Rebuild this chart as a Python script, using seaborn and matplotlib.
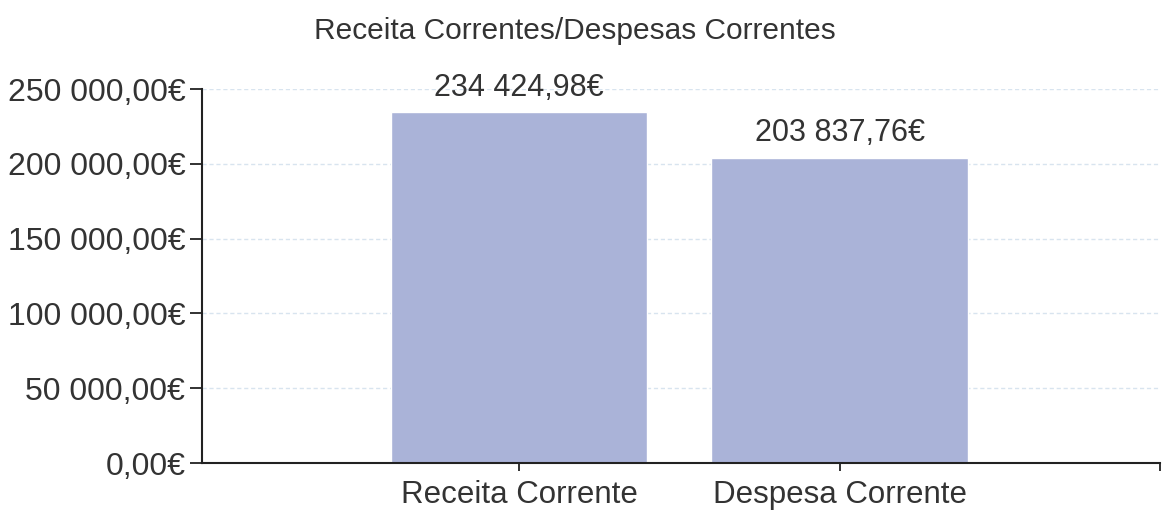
import matplotlib
matplotlib.use("Agg")
import matplotlib.pyplot as plt
import seaborn as sns
import pandas as pd
from matplotlib.ticker import FuncFormatter

categories = ["Receita Corrente", "Despesa Corrente"]
values = [234424.98, 203837.76]
y_ticks = [0, 50000, 100000, 150000, 200000, 250000]
title = "Receita Correntes/Despesas Correntes"


def euro(v, pos=None):
    s = f"{v:,.2f}"
    s = s.replace(",", " ").replace(".", ",")
    return s + "€"


sns.set_style("white")
plt.rcParams["font.family"] = ["Liberation Sans", "DejaVu Sans"]

df = pd.DataFrame({"cat": categories, "val": values})

fig = plt.figure(figsize=(11.63, 5.11), dpi=100)
ax = fig.add_axes([0.1737, 0.0939, 0.8237, 0.7319])

sns.barplot(data=df, x="cat", y="val", color="#aab3d8", width=0.8,
            saturation=1, ax=ax, zorder=2)

ax.set_xlim(-0.99, 2.0)
ax.set_ylim(0, 250000)
ax.set_yticks(y_ticks)
ax.yaxis.set_major_formatter(FuncFormatter(euro))
ax.set_xticks([0, 1, 2])
ax.set_xticklabels(categories + [""])
ax.set_xlabel("")
ax.set_ylabel("")

for s in ["top", "right"]:
    ax.spines[s].set_visible(False)
for s in ["left", "bottom"]:
    ax.spines[s].set_color("#222222")
    ax.spines[s].set_linewidth(1.5)

ax.tick_params(axis="y", direction="out", length=9, width=1.3, color="#222222",
               labelsize=23, labelcolor="#333333", pad=3, left=True)
ax.tick_params(axis="x", direction="out", length=6, width=1.3, color="#222222",
               labelsize=22.5, labelcolor="#333333", pad=6, bottom=True)

ax.grid(axis="y", color="#d8e4ef", linestyle=(0, (3, 2)), linewidth=1, zorder=0)
ax.set_axisbelow(True)

for i, v in enumerate(values):
    ax.annotate(euro(v), (i, v), xytext=(0, 7), textcoords="offset points",
                ha="center", va="bottom", fontsize=22, color="#333333")

fig.text(0.494, 0.94, title, ha="center", va="center", fontsize=21.5,
         color="#333333")

fig.savefig("out.png", dpi=100)
